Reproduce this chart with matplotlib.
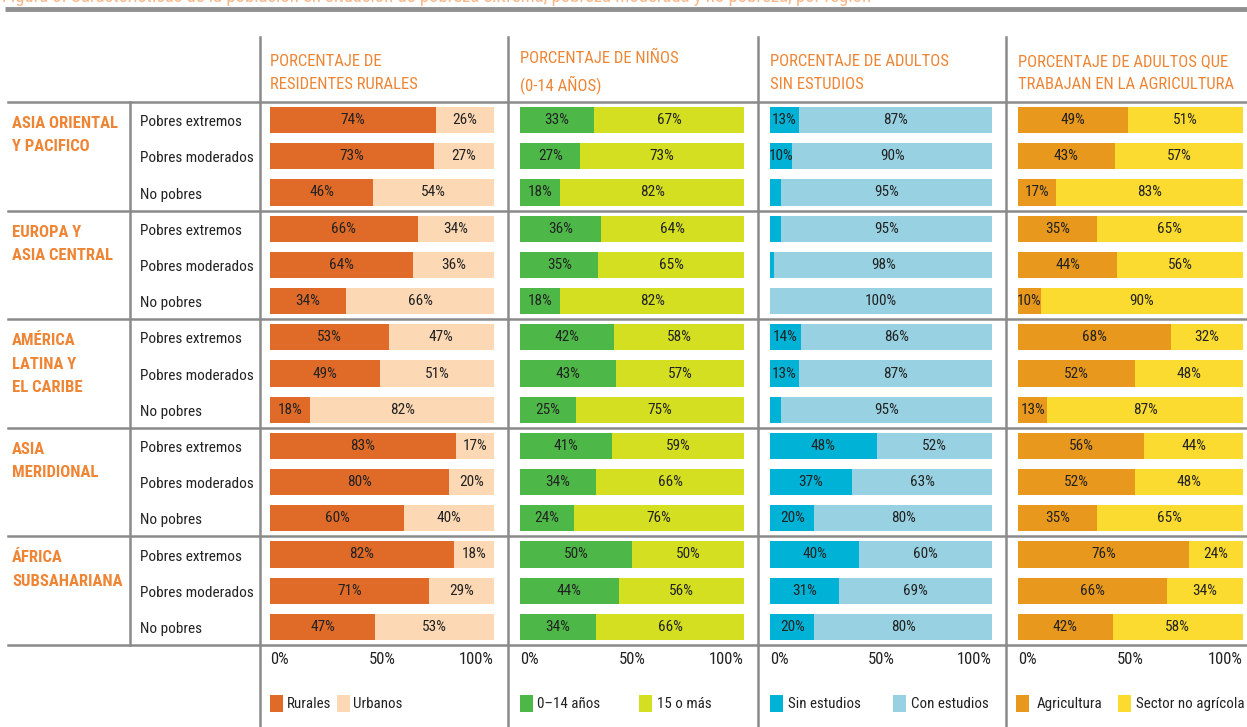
import matplotlib
matplotlib.use('Agg')
import matplotlib.pyplot as plt
from matplotlib.patches import Rectangle

plt.rcParams['font.family'] = ['Roboto Condensed', 'DejaVu Sans']

# datos
regiones = ['ASIA ORIENTAL\nY PACIFICO', 'EUROPA Y\nASIA CENTRAL', 'AMÉRICA\nLATINA Y\nEL CARIBE',
            'ASIA\nMERIDIONAL', 'ÁFRICA\nSUBSAHARIANA']
grupos = ['Pobres extremos', 'Pobres moderados', 'No pobres']
ticks = ['0%', '50%', '100%']

rurales = [74, 73, 46, 66, 64, 34, 53, 49, 18, 83, 80, 60, 82, 71, 47]
ninos = [33, 27, 18, 36, 35, 18, 42, 43, 25, 41, 34, 24, 50, 44, 34]
sin_estudios = [13, 10, 5, 5, 2, 0, 14, 13, 5, 48, 37, 20, 40, 31, 20]
agricultura = [49, 43, 17, 35, 44, 10, 68, 52, 13, 56, 52, 35, 76, 66, 42]

titulos = ['PORCENTAJE DE\nRESIDENTES RURALES', 'PORCENTAJE DE NIÑOS\n(0-14 AÑOS)',
           'PORCENTAJE DE ADULTOS\nSIN ESTUDIOS', 'PORCENTAJE DE ADULTOS QUE\nTRABAJAN EN LA AGRICULTURA']
leyendas = [('Rurales', 'Urbanos'), ('0–14 años', '15 o más'),
            ('Sin estudios', 'Con estudios'), ('Agricultura', 'Sector no agrícola')]
colores = [('#E06B28', '#FDD8B4'), ('#4DB848', '#D4DF22'),
           ('#00B2D6', '#98D2E2'), ('#E8981C', '#FCDB30')]
series = [rurales, ninos, sin_estudios, agricultura]

W, H = 1247, 727
naranja = '#EE8535'
gris = '#8a8a8a'
negro = '#222222'

fig = plt.figure(figsize=(W / 100, H / 100), dpi=100)
bg = fig.add_axes([0, 0, 1, 1])
bg.set_xlim(0, W)
bg.set_ylim(H, 0)
bg.axis('off')

# titulo (cortado arriba, como en el original)
bg.text(2, -3, 'Figura 3: Características de la población en situación de pobreza extrema, '
        'pobreza moderada y no pobreza, por región', color='#F6A56A', fontsize=13.5,
        va='center', ha='left', alpha=0.8)
bg.plot([5, W], [9, 9], color='#909090', lw=3.5, solid_capstyle='butt')

# lineas de la tabla
y_top, y_bot = 102, 645
fila = (y_bot - y_top) / 15
bg.plot([8, W], [y_top, y_top], color=gris, lw=1.8)
bg.plot([8, W], [y_bot, y_bot], color=gris, lw=1.8)
for g in range(1, 5):
    y = y_top + g * 3 * fila
    bg.plot([8, W], [y, y], color=gris, lw=1.8)
bg.plot([130, 130], [y_top, y_bot], color=gris, lw=1.8)
for x in [260, 508, 758, 1006]:
    bg.plot([x, x], [37, H], color=gris, lw=1.8)

# etiquetas de la izquierda
for g, reg in enumerate(regiones):
    y0 = y_top + g * 3 * fila
    bg.text(12, y0 + 14, reg, color=naranja, fontsize=12, fontweight='bold',
            va='top', ha='left', linespacing=1.7)
    for i, gr in enumerate(grupos):
        bg.text(140, y0 + fila * (i + 0.5) + 2, gr, color=negro, fontsize=11,
                va='center', ha='left')

# paneles
x_bars = [(270, 494), (520, 744), (770, 992), (1018, 1243)]
for p in range(4):
    x0, x1 = x_bars[p]
    c1, c2 = colores[p]
    bg.text(x0, 73, titulos[p], color=naranja, fontsize=12, va='center', ha='left',
            linespacing=1.65)
    ax = fig.add_axes([x0 / W, 1 - y_bot / H, (x1 - x0) / W, (y_bot - y_top) / H])
    ax.set_xlim(0, 100)
    ax.set_ylim(14.5, -0.5)
    ax.axis('off')
    vals = series[p]
    ys = list(range(15))
    resto = [100 - v for v in vals]
    ax.barh(ys, vals, height=0.72, color=c1)
    ax.barh(ys, resto, left=vals, height=0.72, color=c2)
    for y, v, r in zip(ys, vals, resto):
        if v >= 10:
            ax.text(v / 2, y, f'{v}%', ha='center', va='center', fontsize=11, color=negro)
        if r >= 10:
            ax.text(v + r / 2, y, f'{r}%', ha='center', va='center', fontsize=11, color=negro)
    # eje
    bg.text(x0, 660, ticks[0], ha='left', va='center', fontsize=12, color=negro)
    bg.text((x0 + x1) / 2, 660, ticks[1], ha='center', va='center', fontsize=12, color=negro)
    bg.text(x1, 660, ticks[2], ha='right', va='center', fontsize=12, color=negro)

# leyendas
pos_ley = [((270, 288), (337, 354)), ((520, 538), (639, 658)),
           ((770, 789), (893, 912)), ((1016, 1038), (1118, 1137))]
for p in range(4):
    for k in range(2):
        xs, xt = pos_ley[p][k]
        bg.add_patch(Rectangle((xs, 695), 13, 17, color=colores[p][k], lw=0))
        bg.text(xt - 1, 704, leyendas[p][k], ha='left', va='center', fontsize=10.8, color=negro)

fig.savefig('out.png', dpi=100)
